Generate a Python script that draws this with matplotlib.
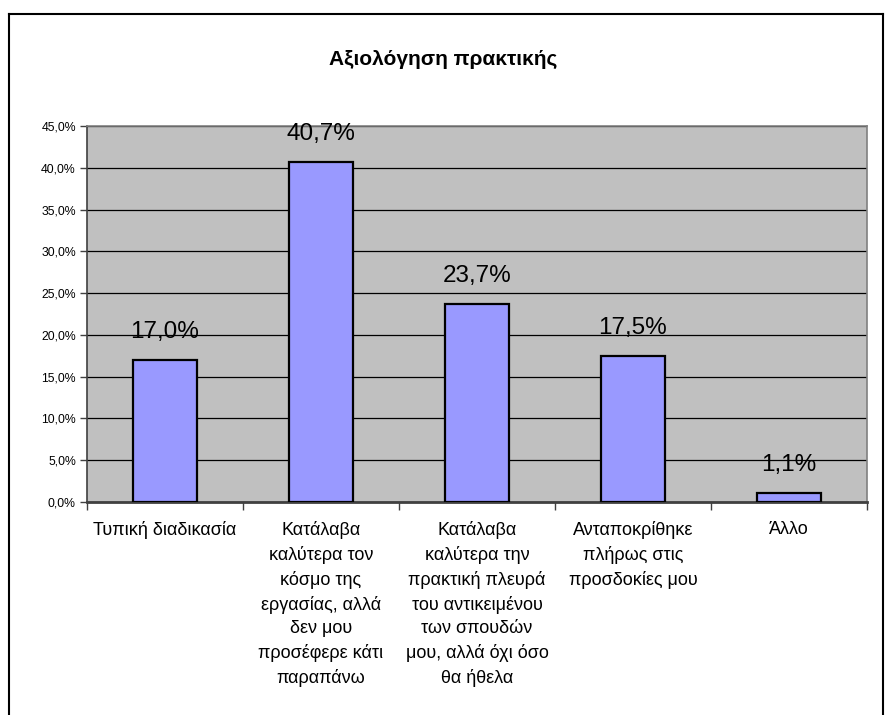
import matplotlib
matplotlib.use("Agg")
import matplotlib.pyplot as plt
from matplotlib.lines import Line2D
from matplotlib.ticker import MultipleLocator, FuncFormatter

plt.rcParams['font.family'] = ['Liberation Sans', 'DejaVu Sans']

title = "Αξιολόγηση πρακτικής"
categories = [
    "Τυπική διαδικασία",
    "Κατάλαβα\nκαλύτερα τον\nκόσμο της\nεργασίας, αλλά\nδεν μου\nπροσέφερε κάτι\nπαραπάνω",
    "Κατάλαβα\nκαλύτερα την\nπρακτική πλευρά\nτου αντικειμένου\nτων σπουδών\nμου, αλλά όχι όσο\nθα ήθελα",
    "Ανταποκρίθηκε\nπλήρως στις\nπροσδοκίες μου",
    "Άλλο",
]
values = [17.0, 40.7, 23.7, 17.5, 1.1]

W, H = 887, 715
fig = plt.figure(figsize=(W / 100, H / 100), dpi=100)
fig.patch.set_facecolor("white")

# outer chart border (bottom edge is outside the image)
fx = lambda px: px / W
fy = lambda py: 1 - py / H
for xs, ys in [((9, 9), (14, 720)), ((9, 883), (14, 14)), ((883, 883), (14, 720))]:
    fig.add_artist(Line2D([fx(x) for x in xs], [fy(y) for y in ys], color="black", lw=1.5,
                          transform=fig.transFigure))

ax = fig.add_axes([fx(87), fy(502), fx(867) - fx(87), fy(126) - fy(502)])
ax.set_facecolor("#C0C0C0")
ax.set_axisbelow(True)

x = list(range(len(categories)))
bars = ax.bar(x, values, width=0.41, color="#9999FF", edgecolor="black", linewidth=1.6, zorder=3)

ax.set_xlim(-0.5, len(categories) - 0.5)
ax.set_ylim(0, 45)
ax.yaxis.set_major_locator(MultipleLocator(5))
ax.yaxis.set_major_formatter(FuncFormatter(lambda v, p: f"{v:.1f}%".replace(".", ",")))
ax.grid(axis="y", color="black", lw=0.9, zorder=1)
ax.tick_params(axis="y", labelsize=8.8, length=5, width=1, color="#404040", pad=3)

for v, b in zip(values, bars):
    ax.annotate(f"{v:.1f}%".replace(".", ","), (b.get_x() + b.get_width() / 2, v),
                xytext=(0, 12), textcoords="offset points", ha="center", va="bottom",
                fontsize=17.5, zorder=4)

# category tick marks at boundaries
ax.set_xticks([i - 0.5 for i in range(len(categories) + 1)])
ax.set_xticklabels([])
ax.tick_params(axis="x", length=6, width=1, color="#404040")
for i, c in enumerate(categories):
    ax.text(i, -0.05, c, transform=ax.get_xaxis_transform(), ha="center", va="top",
            fontsize=13, linespacing=1.5)

for s in ["top", "right"]:
    ax.spines[s].set_color("#808080")
    ax.spines[s].set_linewidth(1.2)
ax.spines["left"].set_color("#404040")
ax.spines["left"].set_linewidth(1.2)
ax.spines["bottom"].set_color("#404040")
ax.spines["bottom"].set_linewidth(2)

fig.text(0.5, fy(59), title, ha="center", va="center", fontsize=15, fontweight="bold")

fig.savefig("out.png", dpi=100)
